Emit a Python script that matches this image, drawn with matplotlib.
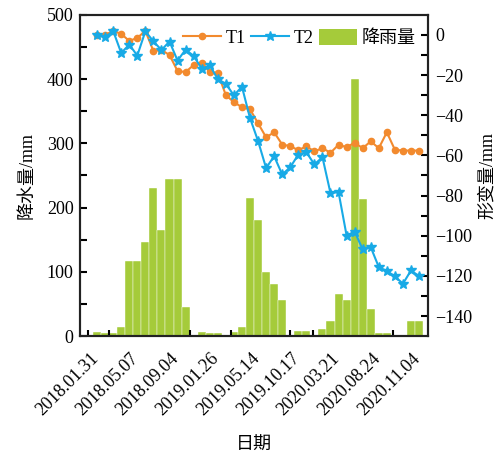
import matplotlib
matplotlib.use("Agg")
import matplotlib.pyplot as plt
from matplotlib.patches import Patch
from matplotlib.lines import Line2D

plt.rcParams['font.family'] = ['Liberation Serif', 'Noto Sans CJK SC']
plt.rcParams['axes.unicode_minus'] = True

# rainfall (mm) per period
rain = [6, 5, 5, 14, 117, 117, 146, 231, 165, 245, 245, 46, 0,
        6, 5, 5, 0, 6, 14, 215, 180, 100, 81, 57, 0, 8, 8, 0,
        11, 23, 65, 57, 400, 213, 42, 5, 5, 0, 0, 24, 24]

# deformation (mm)
t1 = [0, 0, 2, 0.5, -3, -1.5, 2, -8, -7.5, -10, -18, -18.5, -15, -14,
      -18.5, -19, -30, -33.5, -36, -37, -44, -51, -48.5, -54.6, -55.4,
      -57.4, -55.5, -58, -56.4, -58.7, -54.7, -55.9, -53.7, -56.4, -53,
      -56.4, -48.5, -57.2, -57.6, -57.6, -57.6]
t2 = [0, -1.2, 2, -9, -4.8, -10.3, 1.8, -3.2, -7.5, -3.3, -12.8, -7.3,
      -10.5, -16.8, -15.2, -22, -24.4, -30.1, -25.8, -41.4, -52.8, -66.3,
      -60.4, -69.5, -65.9, -59.6, -58.4, -64.5, -60.9, -78.8, -78.3, -99.9,
      -97.9, -106.8, -105.7, -115.6, -117.6, -120.2, -123.9, -117.3, -120.1]

date_labels = ["2018.01.31", "2018.05.07", "2018.09.04", "2019.01.26",
               "2019.05.14", "2019.10.17", "2020.03.21", "2020.08.24",
               "2020.11.04"]

x = list(range(len(rain)))

fig = plt.figure(figsize=(5.03, 4.63), dpi=100)
ax = fig.add_axes([0.160, 0.274, 0.691, 0.694])
ax2 = ax.twinx()

green = "#a5cb3a"
orange = "#f28a2e"
blue = "#18aae6"

ax.bar(x, rain, width=1.0, color=green, edgecolor="white", linewidth=0.3)
ax2.plot(x, t1, color=orange, marker="o", markersize=4.5, linewidth=1.5)
ax2.plot(x, t2, color=blue, marker="*", markersize=7, linewidth=1.5)

ax.set_xlim(-2.06, 41.12)
ax.set_ylim(0, 500)
ax2.set_ylim(-150, 10)

ax.set_yticks([0, 100, 200, 300, 400, 500])
ax.set_yticks(range(50, 500, 100), minor=True)
ax2.set_yticks([0, -20, -40, -60, -80, -100, -120, -140])
ax2.set_yticks(range(-130, 10, 20), minor=True)

tick_pos = [0.6 + 5 * k for k in range(len(date_labels))]
ax.set_xticks(tick_pos)
ax.set_xticklabels(date_labels, rotation=45, ha="right")
ax.set_xticks([-1.1, 1.5, 11.6, 16.6, 24.0, 26.8, 36.8], minor=True)
ax.tick_params(axis="x", which="major", length=0, pad=10, labelsize=13)
ax.tick_params(axis="x", which="minor", direction="in", length=4, width=1.5)

ax.tick_params(axis="y", which="both", direction="in", length=5, width=1.5,
               labelsize=13, pad=5)
ax2.tick_params(axis="y", which="both", direction="in", length=5, width=1.5,
                labelsize=13, pad=5)

for a in (ax, ax2):
    for s in a.spines.values():
        s.set_linewidth(1.5)
        s.set_color("#222222")

ax.set_ylabel("降水量/mm", fontsize=13, labelpad=8)
ax2.set_ylabel("形变量/mm", fontsize=13, labelpad=5)
ax.set_xlabel("日期", fontsize=13, labelpad=13)

handles = [
    Line2D([], [], color=orange, marker="o", markersize=4.5, linewidth=1.5),
    Line2D([], [], color=blue, marker="*", markersize=7, linewidth=1.5),
    Patch(facecolor=green, edgecolor="none"),
]
ax2.legend(handles, ["T1", "T2", "降雨量"], ncol=3, frameon=False,
           loc="upper right", bbox_to_anchor=(1.0, 0.995), fontsize=13,
           handlelength=2.1, handleheight=1.0, handletextpad=0.25,
           columnspacing=0.3, borderaxespad=0.3)

fig.savefig("out.png", dpi=100)
